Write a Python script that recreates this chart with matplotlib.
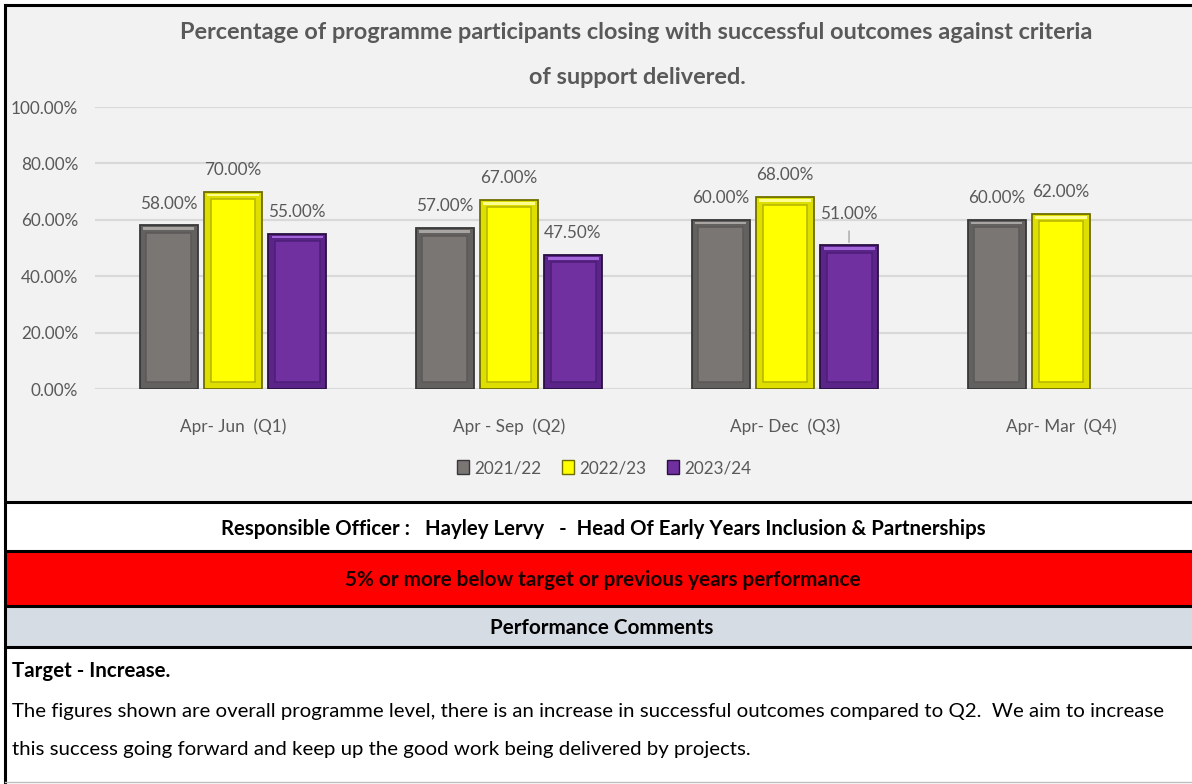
import matplotlib
matplotlib.use("Agg")
import matplotlib.pyplot as plt
from matplotlib.patches import Patch, Rectangle
import numpy as np

# --- data ---
quarters = ["Apr- Jun  (Q1)", "Apr - Sep  (Q2)", "Apr- Dec  (Q3)", "Apr- Mar  (Q4)"]
years = ["2021/22", "2022/23", "2023/24"]
fy_2021_22 = [58.0, 57.0, 60.0, 60.0]
fy_2022_23 = [70.0, 67.0, 68.0, 62.0]
fy_2023_24 = [55.0, 47.5, 51.0, np.nan]
y_ticks = [0, 20, 40, 60, 80, 100]

title_lines = [
    "Percentage of programme participants closing with successful outcomes against criteria",
    "of support delivered.",
]
officer = "Responsible Officer :   Hayley Lervy   -  Head Of Early Years Inclusion & Partnerships"
rag_text = "5% or more below target or previous years performance"
comments_head = "Performance Comments"
target_line = "Target - Increase."
comment_lines = [
    "The figures shown are overall programme level, there is an increase in successful outcomes compared to Q2.  We aim to increase",
    "this success going forward and keep up the good work being delivered by projects.",
]

# face, bevel band, outer edge, top highlight, inner frame
STYLES = [
    ("#7a7674", "#636060", "#383838", "#a8a4a2", "#5c5958"),
    ("#ffff00", "#dede00", "#6e6e00", "#ffff90", "#b5b500"),
    ("#7030a0", "#5a2488", "#2a0f42", "#a266d8", "#4e1e78"),
]
FONT = ["Lato", "DejaVu Sans"]
TXT = "#595959"
W, H = 1192, 784

fig = plt.figure(figsize=(W / 100, H / 100), dpi=100)
renderer = fig.canvas.get_renderer()


def fit(txt, width_px):
    """Rescale a text artist so its rendered width matches width_px."""
    w = txt.get_window_extent(renderer).width
    txt.set_fontsize(txt.get_fontsize() * width_px / w)
    return txt.get_fontsize()


# background canvas in pixel coordinates
bg = fig.add_axes([0, 0, 1, 1], zorder=0)
bg.set_xlim(0, W)
bg.set_ylim(H, 0)
bg.axis("off")

rows = [(5, 502, "#f2f2f2"), (502, 551, "white"), (551, 606, "#ff0000"),
        (606, 647, "#d6dce4"), (647, 784, "white")]
for top, bottom, color in rows:
    bg.add_patch(Rectangle((5, top), W, bottom - top, facecolor=color, edgecolor="none"))
for yline in [5, 502, 551, 606, 647]:
    bg.plot([5, W], [yline, yline], color="black", lw=2.2, solid_capstyle="butt")
bg.plot([5, 5], [5, H], color="black", lw=2.2)
bg.plot([5, W], [782, 782], color="#bfbfbf", lw=1)

# title
t1 = bg.text(636, 32, title_lines[0], ha="center", va="center", fontweight="bold",
             color=TXT, family=FONT, fontsize=16)
size = fit(t1, 917)
bg.text(637, 77, title_lines[1], ha="center", va="center", fontweight="bold",
        color=TXT, family=FONT, fontsize=size)

# footer boxes
t = bg.text(603, 529, officer, ha="center", va="center", fontweight="bold",
            color="black", family=FONT, fontsize=14)
fit(t, 770)
t = bg.text(603, 580, rag_text, ha="center", va="center", fontweight="bold",
            color="#1a0000", family=FONT, fontsize=14)
fit(t, 519)
t = bg.text(602, 628, comments_head, ha="center", va="center", fontweight="bold",
            color="black", family=FONT, fontsize=14)
fit(t, 224)
t = bg.text(12, 671, target_line, ha="left", va="center", fontweight="bold",
            color="black", family=FONT, fontsize=14)
fit(t, 160)
t = bg.text(12, 712, comment_lines[0], ha="left", va="center",
            color="black", family=FONT, fontsize=14)
body = fit(t, 1158)
bg.text(12, 749, comment_lines[1], ha="left", va="center",
        color="black", family=FONT, fontsize=body)

# chart axes: 0% at y=389px, 100% at y=107px, category pitch 276px
ax = fig.add_axes([95 / W, (H - 389) / H, 1104 / W, 282 / H], zorder=1)
ax.patch.set_visible(False)
ax.set_xlim(-0.5, 3.5)
ax.set_ylim(0, 100)
for s in ax.spines.values():
    s.set_visible(False)
ax.set_yticks(y_ticks)
ax.grid(axis="y", color="#d9d9d9", lw=1.6)
ax.set_axisbelow(True)
ax.tick_params(length=0)

probe = ax.text(0, 0, "58.00%", family=FONT, fontsize=14)
lab_size = fit(probe, 58)
probe.remove()

ax.set_yticklabels([f"{v:.2f}%" for v in y_ticks], family=FONT, fontsize=lab_size, color=TXT)
ax.tick_params(axis="y", pad=12)
ax.set_xticks(range(len(quarters)))
ax.set_xticklabels(quarters, family=FONT, fontsize=lab_size, color=TXT)
ax.tick_params(axis="x", pad=21)

x = np.arange(len(quarters))
bar_w = 0.207
step = 0.232
inset = 0.022  # bevel width in category units (~6px)
series = [fy_2021_22, fy_2022_23, fy_2023_24]
for i, (vals, (face, band, edge, light, inner)) in enumerate(zip(series, STYLES)):
    vals = np.asarray(vals)
    xs = x + (i - 1) * step
    ax.bar(xs, vals, bar_w, color=band, edgecolor=edge, lw=1.3, zorder=2)
    ax.bar(xs, np.full_like(vals, 0.9), bar_w - inset, bottom=vals - 1.6,
           color=light, lw=0, zorder=3)
    ax.bar(xs, vals - 5.0, bar_w - 2 * inset, bottom=2.4, color=face,
           edgecolor=inner, lw=1.1, zorder=3)
    for xi, v in zip(xs, vals):
        if np.isnan(v):
            continue
        raised = i == 2 and xi > 2  # Q3 2023/24 label sits higher with a leader line
        off = 17 if raised else 10
        ax.annotate(f"{v:.2f}%", (xi, v), xytext=(0, off), textcoords="offset points",
                    ha="center", va="bottom", family=FONT, fontsize=lab_size, color=TXT,
                    zorder=4)
        if raised:
            ax.annotate("", (xi, v), xytext=(xi, v + 6),
                        arrowprops=dict(arrowstyle="-", color="#a6a6a6", lw=1))

handles = [Patch(facecolor=s[0], edgecolor=s[2], lw=1) for s in STYLES]
fig.legend(handles, years, loc="center", bbox_to_anchor=(604 / W, 1 - 468 / H), ncol=3,
           frameon=False, handlelength=0.7, handleheight=0.9, handletextpad=0.3,
           columnspacing=1.2, prop={"family": FONT, "size": lab_size}, labelcolor=TXT)

fig.savefig("out.png", dpi=100)
